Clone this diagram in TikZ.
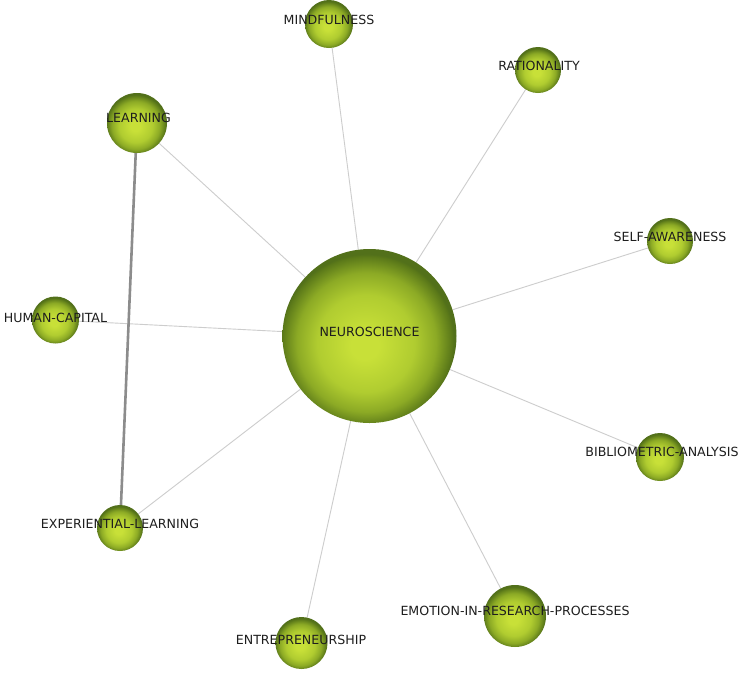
\documentclass[tikz,border=0pt]{standalone}
\usepackage{fontspec}
\setmainfont{DejaVu Sans}
\definecolor{sphlight}{HTML}{C8E038}
\definecolor{sphmidA}{HTML}{B0CC30}
\definecolor{sphmidB}{HTML}{8CAA25}
\definecolor{sphdark}{HTML}{5A7819}
\definecolor{sphrim}{HTML}{52701A}
\definecolor{thinedge}{HTML}{CDCDCD}
\definecolor{thickedge}{HTML}{8C8C8C}
\definecolor{labtext}{HTML}{1E1E1E}
\pgfdeclareradialshading{sphere}{\pgfpoint{-1.5bp}{-3bp}}{%
  color(0bp)=(sphlight); color(4bp)=(sphlight); color(14bp)=(sphmidA); color(20bp)=(sphmidB); color(24.5bp)=(sphdark); color(25bp)=(sphrim); color(50bp)=(sphrim)}
\pgfdeclarelayer{bg}
\pgfdeclarelayer{edges}
\pgfsetlayers{bg,edges,main}
\tikzset{
  sph/.style={circle, inner sep=0pt, minimum size=#1, shading=sphere},
  lab/.style={text=labtext, font=\fontsize{12.6}{14}\selectfont, inner sep=0pt},
  thinlink/.style={draw=thinedge, line width=0.9pt},
  thicklink/.style={draw=thickedge, line width=2.6pt},
}
\begin{document}
\begin{tikzpicture}[x=1pt,y=-1pt]
\begin{pgfonlayer}{bg}
\fill[white] (0,0) rectangle (748,673);
\end{pgfonlayer}
\useasboundingbox (0,0) rectangle (748,673);
% spheres
\node[sph=174pt] (neuro) at (369.5,336) {};
\node[sph=48pt] (mind) at (329,24) {};
\node[sph=46pt] (rat) at (538,70) {};
\node[sph=60pt] (learn) at (137,123) {};
\node[sph=46pt] (self) at (670,241) {};
\node[sph=47pt] (human) at (55.5,320) {};
\node[sph=48pt] (biblio) at (660,457) {};
\node[sph=46pt] (exper) at (120,528) {};
\node[sph=62pt] (emot) at (515,616) {};
\node[sph=52pt] (entre) at (301.5,643) {};
% labels
\node[lab] (lneuro) at (369.5,332) {NEUROSCIENCE};
\node[lab] (lmind) at (329,20) {MINDFULNESS};
\node[lab] (lrat) at (539,66) {RATIONALITY};
\node[lab] (llearn) at (138.5,118) {LEARNING};
\node[lab] (lself) at (670,237) {SELF-AWARENESS};
\node[lab] (lhuman) at (55.5,318) {HUMAN-CAPITAL};
\node[lab] (lbiblio) at (662,452) {BIBLIOMETRIC-ANALYSIS};
\node[lab] (lexper) at (120,524) {EXPERIENTIAL-LEARNING};
\node[lab] (lemot) at (515,611) {EMOTION-IN-RESEARCH-PROCESSES};
\node[lab] (lentre) at (301,640) {ENTREPRENEURSHIP};
% edges
\begin{pgfonlayer}{edges}
\draw[thinlink] (neuro) -- (mind);
\draw[thinlink] (neuro) -- (rat);
\draw[thinlink] (neuro) -- (learn);
\draw[thinlink] (neuro) -- (self);
\draw[thinlink] (neuro) -- (human);
\draw[thinlink] (neuro) -- (biblio);
\draw[thinlink] (neuro) -- (exper);
\draw[thinlink] (neuro) -- (emot);
\draw[thinlink] (neuro) -- (entre);
\draw[thicklink] (learn) -- (exper);
\end{pgfonlayer}
\end{tikzpicture}
\end{document}
